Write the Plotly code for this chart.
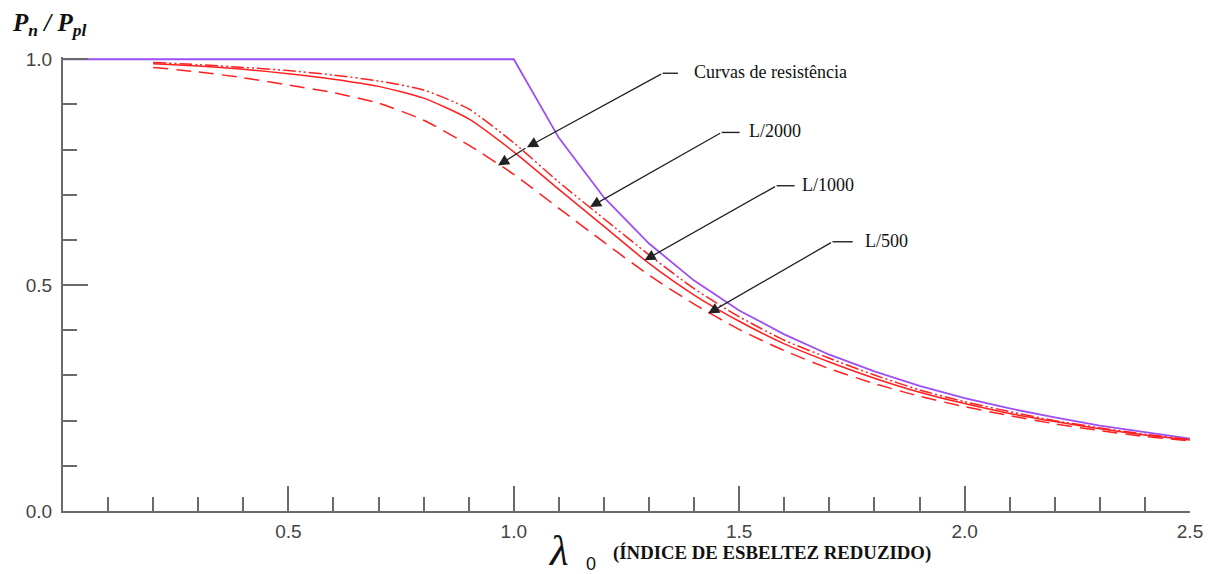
import plotly.graph_objects as go

# ---------------- data ----------------
lam_red = [0.2, 0.3, 0.4, 0.5, 0.6, 0.7, 0.8, 0.9, 1.0, 1.1, 1.2, 1.3, 1.4,
           1.5, 1.6, 1.7, 1.8, 1.9, 2.0, 2.1, 2.2, 2.3, 2.4, 2.5]
l2000 = [0.993, 0.988, 0.982, 0.975, 0.965, 0.952, 0.932, 0.890, 0.815, 0.728,
         0.647, 0.567, 0.492, 0.430, 0.378, 0.338, 0.301, 0.268, 0.242, 0.220,
         0.200, 0.184, 0.170, 0.158]
l1000 = [0.990, 0.985, 0.978, 0.968, 0.956, 0.940, 0.914, 0.868, 0.795, 0.712,
         0.630, 0.548, 0.478, 0.420, 0.370, 0.330, 0.294, 0.263, 0.238, 0.216,
         0.198, 0.182, 0.168, 0.157]
l500 = [0.982, 0.972, 0.959, 0.943, 0.926, 0.903, 0.865, 0.810, 0.745, 0.670,
        0.595, 0.522, 0.458, 0.402, 0.355, 0.315, 0.282, 0.254, 0.231, 0.211,
        0.193, 0.178, 0.165, 0.155]

lam_euler = [0.0, 1.0, 1.1, 1.2, 1.3, 1.4, 1.5, 1.6, 1.7, 1.8, 1.9, 2.0,
             2.1, 2.2, 2.3, 2.4, 2.5]
euler = [1.0, 1.0, 0.826, 0.694, 0.592, 0.510, 0.444, 0.391, 0.346, 0.309,
         0.277, 0.250, 0.227, 0.207, 0.189, 0.174, 0.160]

x_ticks = [0.0, 0.5, 1.0, 1.5, 2.0, 2.5]
x_tick_text = ["", "0.5", "1.0", "1.5", "2.0", "2.5"]
y_ticks = [0.0, 0.5, 1.0]
y_tick_text = ["0.0", "0.5", "1.0"]

labels = ["Curvas de resistência", "L/2000", "L/1000", "L/500"]

# ---------------- figure ----------------
OFF = 8                      # page body margin
W, H = 1216 - OFF, 574 - OFF
YTOP = 1.005                 # small headroom so the 1.0 plateau is not clipped
PW = 1127
PH = 452 * YTOP
ML = 63 - OFF
MT = 511 - OFF - PH
MR, MB = W - ML - PW, H - MT - PH


def px(x):   # page pixel x -> paper
    return (x - OFF - ML) / PW


def py(y):   # page pixel y -> paper
    return (MT + PH - (y - OFF)) / PH


RED = "#ff1f1f"
PURPLE = "#9b4ff5"
AX = "#6a6a6a"
SERIF = "Liberation Serif"

fig = go.Figure()
fig.add_trace(go.Scatter(x=lam_euler, y=euler, mode="lines",
                         line=dict(color=PURPLE, width=1.8), showlegend=False))
fig.add_trace(go.Scatter(x=lam_red, y=l500, mode="lines",
                         line=dict(color=RED, width=1.5, dash="15px,8px",
                                   shape="spline", smoothing=0.6),
                         showlegend=False))
fig.add_trace(go.Scatter(x=lam_red, y=l1000, mode="lines",
                         line=dict(color=RED, width=1.5, shape="spline",
                                   smoothing=0.6),
                         showlegend=False))
fig.add_trace(go.Scatter(x=lam_red, y=l2000, mode="lines",
                         line=dict(color=RED, width=1.5, shape="spline",
                                   smoothing=0.6,
                                   dash="13px,3px,2px,3px,2px,3px"),
                         showlegend=False))

# leader lines (horizontal stub + diagonal), arrowheads, texts
leaders = [
    # (stub_start, stub_end, tips, text_left)
    ((1.330, 0.969), (1.364, 0.969), [(1.029, 0.805), (0.965, 0.765)], (1.396, 0.972)),
    ((1.461, 0.838), (1.501, 0.838), [(1.169, 0.673)], (1.517, 0.841)),
    ((1.583, 0.720), (1.623, 0.720), [(1.290, 0.555)], (1.634, 0.722)),
    ((1.707, 0.596), (1.752, 0.596), [(1.431, 0.437)], (1.775, 0.598)),
]
for (s0, s1, tips, tl), lab in zip(leaders, labels):
    fig.add_shape(type="line", x0=s0[0], y0=s0[1], x1=s1[0], y1=s1[1],
                  xref="x", yref="y", line=dict(color="#222", width=1.4))
    start = s0
    for tp in tips:
        fig.add_annotation(x=tp[0], y=tp[1], ax=start[0], ay=start[1],
                           xref="x", yref="y", axref="x", ayref="y", text="",
                           showarrow=True, arrowhead=2, arrowsize=1.7,
                           arrowwidth=1.3, arrowcolor="#222")
        start = tp
    fig.add_annotation(x=tl[0], y=tl[1], xref="x", yref="y", text=lab,
                       showarrow=False, xanchor="left", yanchor="middle",
                       font=dict(family=SERIF, size=18, color="#111"))

# axis titles
fig.add_annotation(x=px(10), y=py(24), xref="paper", yref="paper",
                   text="<b><i>P<sub>n</sub> / P<sub>pl</sub></i></b>",
                   showarrow=False, xanchor="left", yanchor="middle",
                   font=dict(family=SERIF, size=25, color="#111"))
fig.add_annotation(x=px(546), y=py(551), xref="paper", yref="paper",
                   text="<i>λ</i>", showarrow=False, xanchor="left",
                   yanchor="middle",
                   font=dict(family=SERIF, size=43, color="#111"))
fig.add_annotation(x=px(584), y=py(564), xref="paper", yref="paper",
                   text="0", showarrow=False, xanchor="left", yanchor="middle",
                   font=dict(family="Liberation Sans", size=18, color="#111"))
fig.add_annotation(x=px(611), y=py(553), xref="paper", yref="paper",
                   text="<b>(ÍNDICE DE ESBELTEZ REDUZIDO)</b>",
                   showarrow=False, xanchor="left", yanchor="middle",
                   font=dict(family=SERIF, size=18.8, color="#111"))

axis_common = dict(showgrid=False, zeroline=False, showline=True, linecolor=AX,
                   linewidth=2, ticks="inside", ticklen=25, tickwidth=1.5,
                   tickcolor=AX, automargin=False,
                   tickfont=dict(family="Liberation Sans", size=19, color="#444"),
                   minor=dict(dtick=0.1, ticks="inside", ticklen=14,
                              tickwidth=1.5, tickcolor=AX))

fig.update_xaxes(range=[0, 2.5], tickvals=x_ticks, ticktext=x_tick_text,
                 ticklabelstandoff=2, **axis_common)
fig.update_yaxes(range=[0, YTOP], tickvals=y_ticks, ticktext=y_tick_text,
                 ticklabelstandoff=5, **axis_common)

fig.update_layout(width=W, height=H, plot_bgcolor="white", paper_bgcolor="white",
                  margin=dict(l=ML, r=MR, t=MT, b=MB), showlegend=False)

fig.write_html("out.html")
